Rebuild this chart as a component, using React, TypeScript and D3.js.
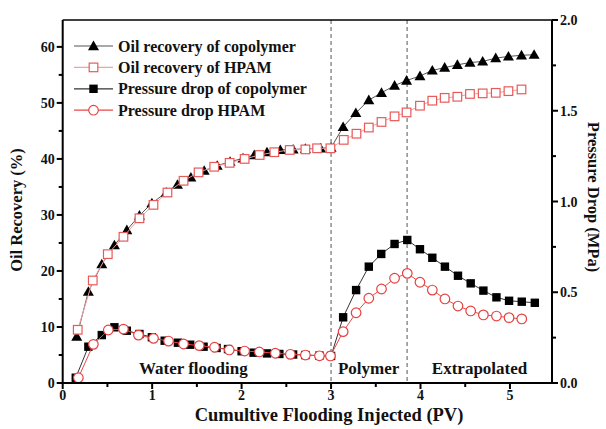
import React from "react";
import * as d3 from "d3";

// Flooding stages (PV) marked by dashed separators
const stageBounds = [3.0, 3.85];
const stageLabels = ["Water flooding", "Polymer", "Extrapolated"];
const stageLabelX = [1.46, 3.42, 4.66];

// Oil recovery (%) — copolymer
const oilCopoPV = [0.157, 0.287, 0.437, 0.578, 0.717, 0.858, 0.997, 1.157, 1.283, 1.433, 1.582, 1.727, 1.871, 2.016, 2.142, 2.284, 2.433, 2.576, 2.713, 2.882, 3.0, 3.135, 3.277, 3.422, 3.564, 3.71, 3.844, 3.994, 4.132, 4.27, 4.412, 4.553, 4.695, 4.841, 4.983, 5.129, 5.27];
const oilCopo = [8.3, 16.3, 21.2, 24.6, 27.3, 29.9, 32.1, 34.0, 35.4, 36.7, 37.9, 38.8, 39.5, 40.1, 40.7, 41.2, 41.6, 41.7, 41.8, 41.9, 42.0, 45.7, 48.2, 50.5, 51.8, 53.1, 54.0, 54.8, 55.8, 56.3, 56.8, 57.2, 57.4, 58.0, 58.3, 58.5, 58.6];

// Oil recovery (%) — HPAM
const oilHpamPV = [0.168, 0.336, 0.504, 0.679, 0.858, 1.015, 1.171, 1.351, 1.519, 1.694, 1.866, 2.034, 2.202, 2.366, 2.538, 2.713, 2.844, 2.993, 3.142, 3.284, 3.422, 3.564, 3.71, 3.844, 3.994, 4.132, 4.27, 4.412, 4.553, 4.695, 4.841, 4.983, 5.129];
const oilHpam = [9.5, 18.3, 23.0, 26.1, 29.4, 31.8, 34.0, 36.1, 37.6, 38.6, 39.3, 40.0, 40.7, 41.2, 41.6, 41.7, 41.9, 41.9, 43.4, 44.5, 45.6, 46.6, 47.6, 48.3, 49.5, 50.4, 50.9, 51.1, 51.6, 51.7, 51.8, 52.1, 52.4];

// Pressure drop (MPa) — copolymer
const dpCopoPV = [0.146, 0.287, 0.437, 0.578, 0.717, 0.858, 0.997, 1.14, 1.288, 1.425, 1.575, 1.72, 1.848, 2.0, 2.134, 2.284, 2.422, 2.576, 2.713, 2.87, 3.0, 3.135, 3.28, 3.422, 3.561, 3.71, 3.852, 3.994, 4.132, 4.273, 4.419, 4.561, 4.703, 4.849, 4.99, 5.132, 5.278];
const dpCopo = [0.029, 0.2, 0.264, 0.307, 0.288, 0.27, 0.252, 0.233, 0.222, 0.211, 0.2, 0.193, 0.187, 0.175, 0.167, 0.163, 0.16, 0.157, 0.154, 0.151, 0.149, 0.362, 0.512, 0.641, 0.711, 0.766, 0.788, 0.737, 0.69, 0.641, 0.591, 0.549, 0.509, 0.472, 0.453, 0.448, 0.442];

// Pressure drop (MPa) — HPAM
const dpHpamPV = [0.175, 0.343, 0.51, 0.679, 0.847, 1.015, 1.183, 1.351, 1.526, 1.698, 1.862, 2.034, 2.198, 2.377, 2.545, 2.713, 2.87, 2.993, 3.135, 3.28, 3.422, 3.564, 3.71, 3.852, 3.994, 4.132, 4.273, 4.419, 4.561, 4.703, 4.849, 4.99, 5.132];
const dpHpam = [0.029, 0.213, 0.292, 0.297, 0.264, 0.246, 0.231, 0.215, 0.206, 0.197, 0.182, 0.176, 0.171, 0.164, 0.158, 0.154, 0.15, 0.149, 0.283, 0.387, 0.467, 0.518, 0.577, 0.604, 0.555, 0.512, 0.463, 0.424, 0.397, 0.375, 0.369, 0.36, 0.353];

// Axis ticks
const xTicks = [0, 1, 2, 3, 4, 5];
const xMinor = [0.5, 1.5, 2.5, 3.5, 4.5];
const yLeftTicks = [0, 10, 20, 30, 40, 50, 60];
const yLeftMinor = [5, 15, 25, 35, 45, 55];
const yRightTicks = [0, 0.5, 1.0, 1.5, 2.0];
const yRightMinor = [0.25, 0.75, 1.25, 1.75];

const legendNames = [
  "Oil recovery of copolymer",
  "Oil recovery of HPAM",
  "Pressure drop of copolymer",
  "Pressure drop HPAM",
];

const W = 606;
const H = 429;
const m = { left: 62.7, right: 552, top: 20, bottom: 383 };
const FONT = "'Liberation Serif', 'Times New Roman', serif";

const x = d3.scaleLinear().domain([0, 5.47]).range([m.left, m.right]);
const yL = d3.scaleLinear().domain([0, 64.8]).range([m.bottom, m.top]);
const yR = d3.scaleLinear().domain([0, 2.0]).range([m.bottom, m.top]);

const COL = {
  copoLine: "#555",
  hpamLine: "#f2a0a0",
  dpCopoLine: "#333",
  dpHpamLine: "#e84848",
  hpamMarker: "#e85a5a",
  dpHpamMarker: "#e84040",
};

type Kind = "tri" | "sq" | "fsq" | "circ";

function Marker({ kind, cx, cy }: { kind: Kind; cx: number; cy: number }) {
  if (kind === "tri") {
    const s = 5.5;
    return (
      <path
        d={`M${cx},${cy - s}L${cx + s},${cy + s * 0.75}L${cx - s},${cy + s * 0.75}Z`}
        fill="#000"
      />
    );
  }
  if (kind === "sq") {
    return (
      <rect x={cx - 4.3} y={cy - 4.3} width={8.6} height={8.6} fill="#fff" stroke={COL.hpamMarker} strokeWidth={1.2} />
    );
  }
  if (kind === "fsq") {
    return <rect x={cx - 4.2} y={cy - 4.2} width={8.4} height={8.4} fill="#000" />;
  }
  return <circle cx={cx} cy={cy} r={4.8} fill="#fff" stroke={COL.dpHpamMarker} strokeWidth={1.2} />;
}

function Series({
  xs,
  ys,
  scaleY,
  kind,
  lineColor,
}: {
  xs: number[];
  ys: number[];
  scaleY: d3.ScaleLinear<number, number>;
  kind: Kind;
  lineColor: string;
}) {
  const pts: [number, number][] = xs.map((v, i) => [x(v), scaleY(ys[i])]);
  const line = d3.line()(pts) || "";
  return (
    <g>
      <path d={line} fill="none" stroke={lineColor} strokeWidth={1} />
      {pts.map((p, i) => (
        <Marker key={i} kind={kind} cx={p[0]} cy={p[1]} />
      ))}
    </g>
  );
}

export default function App() {
  const legend = [
    { kind: "tri" as Kind, color: COL.copoLine },
    { kind: "sq" as Kind, color: COL.hpamLine },
    { kind: "fsq" as Kind, color: COL.dpCopoLine },
    { kind: "circ" as Kind, color: COL.dpHpamLine },
  ];
  return (
    <svg
      width={W}
      height={H}
      style={{ position: "absolute", left: 0, top: 0, background: "#fff" }}
      fontFamily={FONT}
      fontWeight="bold"
    >
      <rect x={0} y={0} width={W} height={H} fill="#fff" />

      {/* stage separators */}
      {stageBounds.map((b, i) => (
        <line key={i} x1={x(b)} x2={x(b)} y1={m.top} y2={m.bottom} stroke="#555" strokeWidth={1} strokeDasharray="4,3" />
      ))}
      {stageLabels.map((t, i) => (
        <text key={i} x={x(stageLabelX[i])} y={374} textAnchor="middle" fontSize={17} fill="#111">
          {t}
        </text>
      ))}

      {/* data */}
      <Series xs={oilCopoPV} ys={oilCopo} scaleY={yL} kind="tri" lineColor={COL.copoLine} />
      <Series xs={oilHpamPV} ys={oilHpam} scaleY={yL} kind="sq" lineColor={COL.hpamLine} />
      <Series xs={dpCopoPV} ys={dpCopo} scaleY={yR} kind="fsq" lineColor={COL.dpCopoLine} />
      <Series xs={dpHpamPV} ys={dpHpam} scaleY={yR} kind="circ" lineColor={COL.dpHpamLine} />

      {/* frame */}
      <line x1={m.left} x2={m.right} y1={m.top} y2={m.top} stroke="#000" strokeWidth={1.5} />
      <line x1={m.left} x2={m.right} y1={m.bottom} y2={m.bottom} stroke="#000" strokeWidth={2} />
      <line x1={m.left} x2={m.left} y1={m.top} y2={m.bottom} stroke="#000" strokeWidth={2} />
      <line x1={m.right} x2={m.right} y1={m.top} y2={m.bottom} stroke="#000" strokeWidth={2} />

      {/* bottom axis */}
      {xTicks.map((t) => (
        <g key={t}>
          <line x1={x(t)} x2={x(t)} y1={m.bottom} y2={m.bottom + 6} stroke="#000" strokeWidth={2} />
          <text x={x(t)} y={400} textAnchor="middle" fontSize={14} fill="#111">
            {t}
          </text>
        </g>
      ))}
      {xMinor.map((t) => (
        <line key={t} x1={x(t)} x2={x(t)} y1={m.bottom} y2={m.bottom + 4} stroke="#000" strokeWidth={2} />
      ))}
      <text x={329} y={421} textAnchor="middle" fontSize={18.5} fill="#111">
        Cumultive Flooding Injected (PV)
      </text>

      {/* left axis */}
      {yLeftTicks.map((t) => (
        <g key={t}>
          <line x1={m.left - 6} x2={m.left} y1={yL(t)} y2={yL(t)} stroke="#000" strokeWidth={2} />
          <text x={m.left - 8} y={yL(t) + 5} textAnchor="end" fontSize={14} fill="#111">
            {t}
          </text>
        </g>
      ))}
      {yLeftMinor.map((t) => (
        <line key={t} x1={m.left - 4} x2={m.left} y1={yL(t)} y2={yL(t)} stroke="#000" strokeWidth={2} />
      ))}
      <text transform={`translate(22,${210}) rotate(-90)`} textAnchor="middle" fontSize={16.5} fill="#111">
        Oil Recovery (%)
      </text>

      {/* right axis */}
      {yRightTicks.map((t) => (
        <g key={t}>
          <line x1={m.right} x2={m.right + 6} y1={yR(t)} y2={yR(t)} stroke="#000" strokeWidth={2} />
          <text x={m.right + 8} y={yR(t) + 5} textAnchor="start" fontSize={14} fill="#111">
            {t.toFixed(1)}
          </text>
        </g>
      ))}
      {yRightMinor.map((t) => (
        <line key={t} x1={m.right} x2={m.right + 4} y1={yR(t)} y2={yR(t)} stroke="#000" strokeWidth={2} />
      ))}
      <text transform={`translate(588,${197}) rotate(90)`} textAnchor="middle" fontSize={16.5} fill="#111">
        Pressure Drop (MPa)
      </text>

      {/* legend */}
      {legendNames.map((name, i) => {
        const cy = 46 + i * 21.4;
        return (
          <g key={name}>
            <line x1={74} x2={113} y1={cy} y2={cy} stroke={legend[i].color} strokeWidth={1.2} />
            <Marker kind={legend[i].kind} cx={93.5} cy={cy} />
            <text x={118} y={cy + 5.5} fontSize={16} fill="#111">
              {name}
            </text>
          </g>
        );
      })}
    </svg>
  );
}
